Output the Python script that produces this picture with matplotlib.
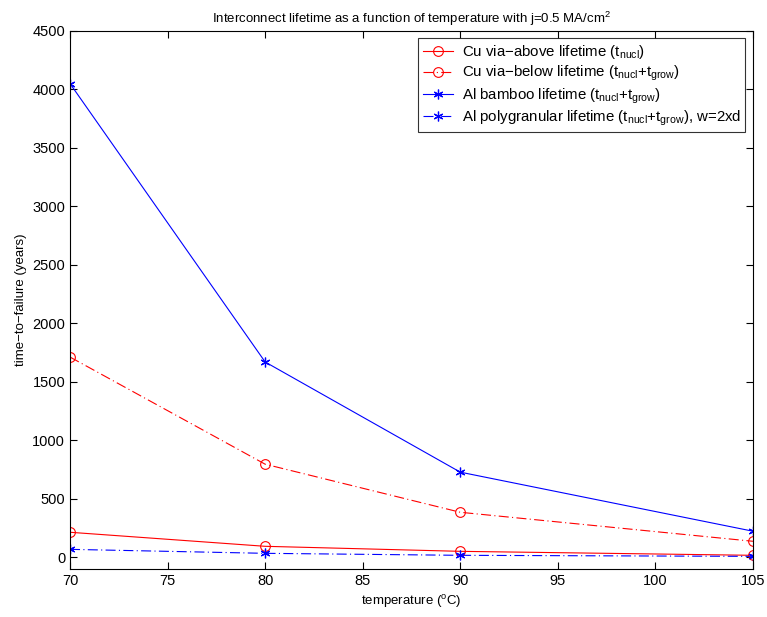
import matplotlib
matplotlib.use("Agg")
import matplotlib.pyplot as plt

plt.rcParams['font.family'] = ['Liberation Sans', 'DejaVu Sans']
plt.rcParams['mathtext.fontset'] = 'custom'
plt.rcParams['mathtext.rm'] = 'Liberation Sans'
plt.rcParams['mathtext.it'] = 'Liberation Sans'

temperature = [70, 80, 90, 105]
cu_above = [214, 94, 51, 17]
cu_below = [1712, 796, 385, 137]
al_bamboo = [4050, 1670, 728, 223]
al_poly = [68, 34, 17, 8]

xticks = [70, 75, 80, 85, 90, 95, 100, 105]
yticks = [0, 500, 1000, 1500, 2000, 2500, 3000, 3500, 4000, 4500]

fig = plt.figure(figsize=(7.67, 6.17), dpi=100)
ax = fig.add_axes([0.0913, 0.0778, 0.8904, 0.872])

asterisk = (6, 2, 0)
dashdot = (9, 3, 1, 3)
ax.plot(temperature, cu_above, '-', color='red', lw=0.8, marker='o', mfc='none', mec='red', ms=7, mew=0.8,
        label=r'Cu via$-$above lifetime (t$_{\mathrm{nucl}}$)')
ax.plot(temperature, cu_below, color='red', lw=0.8, dashes=dashdot, marker='o', mfc='none', mec='red', ms=7, mew=0.8,
        label=r'Cu via$-$below lifetime (t$_{\mathrm{nucl}}$+t$_{\mathrm{grow}}$)')
ax.plot(temperature, al_bamboo, '-', color='blue', lw=0.8, marker=asterisk, mec='blue', ms=7, mew=0.9,
        label=r'Al bamboo lifetime (t$_{\mathrm{nucl}}$+t$_{\mathrm{grow}}$)')
ax.plot(temperature, al_poly, color='blue', lw=0.8, dashes=dashdot, marker=asterisk, mec='blue', ms=7, mew=0.9,
        label=r'Al polygranular lifetime (t$_{\mathrm{nucl}}$+t$_{\mathrm{grow}}$), w=2xd')

ax.set_xlim(70, 105)
ax.set_ylim(-100, 4500)
ax.set_xticks(xticks)
ax.set_yticks(yticks)
ax.tick_params(direction='in', top=True, right=True, labelsize=10.5, length=5, width=0.8)
for s in ax.spines.values():
    s.set_linewidth(0.8)

ax.set_xlabel(r'temperature ($^{\mathrm{o}}$C)', fontsize=9.5)
ax.set_ylabel('time\u2212to\u2212failure (years)', fontsize=9.5)
ax.set_title(r'Interconnect lifetime as a function of temperature with j=0.5 MA/cm$^2$', fontsize=9.5)

leg = ax.legend(loc='upper right', fontsize=10.8, handlelength=2.0, frameon=True, fancybox=False,
                edgecolor='black', borderaxespad=0.5, labelspacing=0.2, borderpad=0.3, handletextpad=0.6)
leg.get_frame().set_linewidth(0.8)

fig.savefig('out.png', dpi=100)
